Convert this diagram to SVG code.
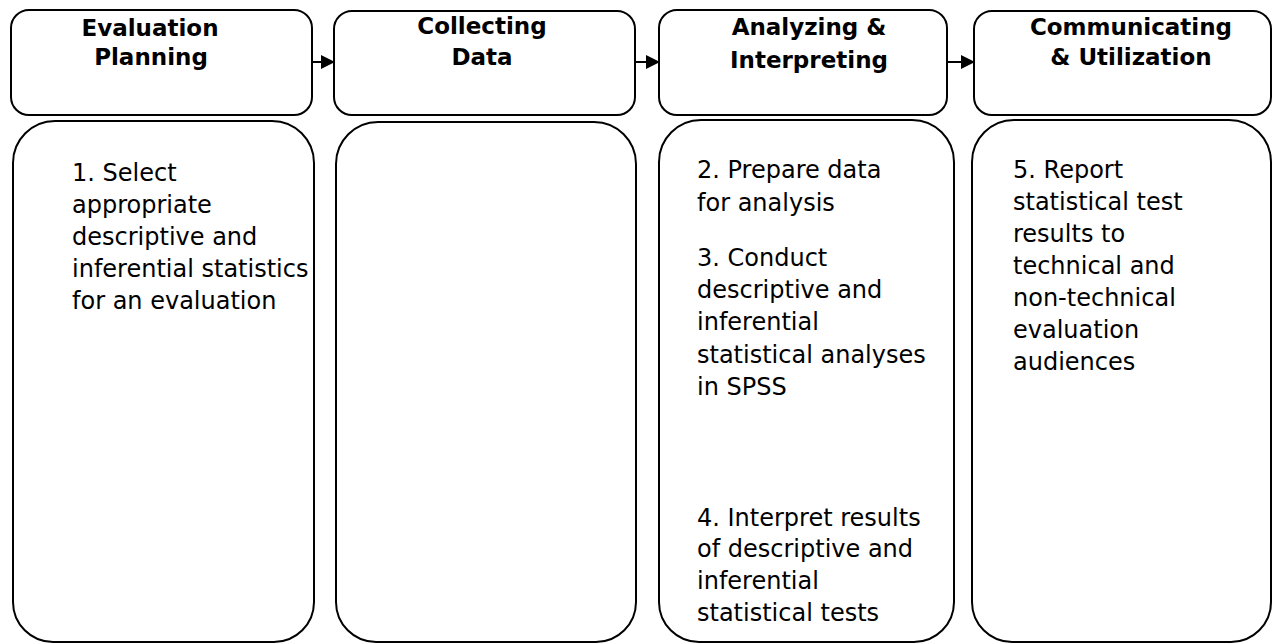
<svg xmlns="http://www.w3.org/2000/svg" width="1273" height="644" viewBox="0 0 1273 644">
  <style>
    .head { fill: #fff; stroke: #000; stroke-width: 2; }
    .col { fill: #fff; stroke: #000; stroke-width: 2; }
    .title { font-family: "DejaVu Sans", sans-serif; font-weight: bold; font-size: 23px; fill: #000; text-anchor: middle; }
    .body { font-family: "DejaVu Sans", sans-serif; font-size: 24px; fill: #000; }
    .link { stroke: #000; stroke-width: 2; fill: none; marker-end: url(#arrow); }
  </style>
  <defs>
    <marker id="arrow" markerWidth="14" markerHeight="14" refX="13" refY="7" orient="auto" markerUnits="userSpaceOnUse">
      <path d="M0,0 L14,7 L0,14 Z" fill="#000"/>
    </marker>
  </defs>
  <rect width="1273" height="644" fill="#fff"/>

  <!-- stage 1 -->
  <g id="evaluation-planning">
    <rect class="head" x="11" y="10" width="301" height="105" rx="18"/>
    <text class="title" x="150" y="36">Evaluation</text>
    <text class="title" x="151" y="65">Planning</text>
  </g>
  <g id="planning-tasks">
    <path class="col" d="M13,602 L13,163 A42,42 0 0 1 55,121 L272,121 A42,42 0 0 1 314,163 L314,602 A40,40 0 0 1 274,642 L53,642 A40,40 0 0 1 13,602 Z"/>
    <text class="body" x="72" y="181">1. Select</text>
    <text class="body" x="72" y="213">appropriate</text>
    <text class="body" x="72" y="245">descriptive and</text>
    <text class="body" x="72" y="277">inferential statistics</text>
    <text class="body" x="72" y="309">for an evaluation</text>
  </g>

  <!-- stage 2 -->
  <g id="collecting-data">
    <rect class="head" x="334" y="11" width="301" height="104" rx="18"/>
    <text class="title" x="482" y="34">Collecting</text>
    <text class="title" x="482" y="65">Data</text>
  </g>
  <g id="collecting-tasks">
    <path class="col" d="M336,602 L336,164 A42,42 0 0 1 378,122 L594,122 A42,42 0 0 1 636,164 L636,602 A40,40 0 0 1 596,642 L376,642 A40,40 0 0 1 336,602 Z"/>
  </g>

  <!-- stage 3 -->
  <g id="analyzing-interpreting">
    <rect class="head" x="659" y="10" width="288" height="105" rx="18"/>
    <text class="title" x="809" y="35">Analyzing &amp;</text>
    <text class="title" x="809" y="68">Interpreting</text>
  </g>
  <g id="analyzing-tasks">
    <path class="col" d="M659,602 L659,162 A42,42 0 0 1 701,120 L912,120 A42,42 0 0 1 954,162 L954,602 A40,40 0 0 1 914,642 L699,642 A40,40 0 0 1 659,602 Z"/>
    <text class="body" x="697" y="178">2. Prepare data</text>
    <text class="body" x="697" y="211">for analysis</text>
    <text class="body" x="697" y="266">3. Conduct</text>
    <text class="body" x="697" y="298">descriptive and</text>
    <text class="body" x="697" y="330">inferential</text>
    <text class="body" x="697" y="363">statistical analyses</text>
    <text class="body" x="697" y="395">in SPSS</text>
    <text class="body" x="697" y="526">4. Interpret results</text>
    <text class="body" x="697" y="557">of descriptive and</text>
    <text class="body" x="697" y="589">inferential</text>
    <text class="body" x="697" y="621">statistical tests</text>
  </g>

  <!-- stage 4 -->
  <g id="communicating-utilization">
    <rect class="head" x="974" y="11" width="297" height="104" rx="18"/>
    <text class="title" x="1131" y="35">Communicating</text>
    <text class="title" x="1131" y="65">&amp; Utilization</text>
  </g>
  <g id="communicating-tasks">
    <path class="col" d="M972,602 L972,162 A42,42 0 0 1 1014,120 L1229,120 A42,42 0 0 1 1271,162 L1271,602 A40,40 0 0 1 1231,642 L1012,642 A40,40 0 0 1 972,602 Z"/>
    <text class="body" x="1013" y="178">5. Report</text>
    <text class="body" x="1013" y="210">statistical test</text>
    <text class="body" x="1013" y="242">results to</text>
    <text class="body" x="1013" y="274">technical and</text>
    <text class="body" x="1013" y="306">non-technical</text>
    <text class="body" x="1013" y="338">evaluation</text>
    <text class="body" x="1013" y="370">audiences</text>
  </g>

  <!-- flow between stages -->
  <g id="connectors">
    <line class="link" x1="313" y1="62" x2="334" y2="62"/>
    <line class="link" x1="636" y1="62" x2="659" y2="62"/>
    <line class="link" x1="948" y1="62" x2="974" y2="62"/>
  </g>
</svg>
